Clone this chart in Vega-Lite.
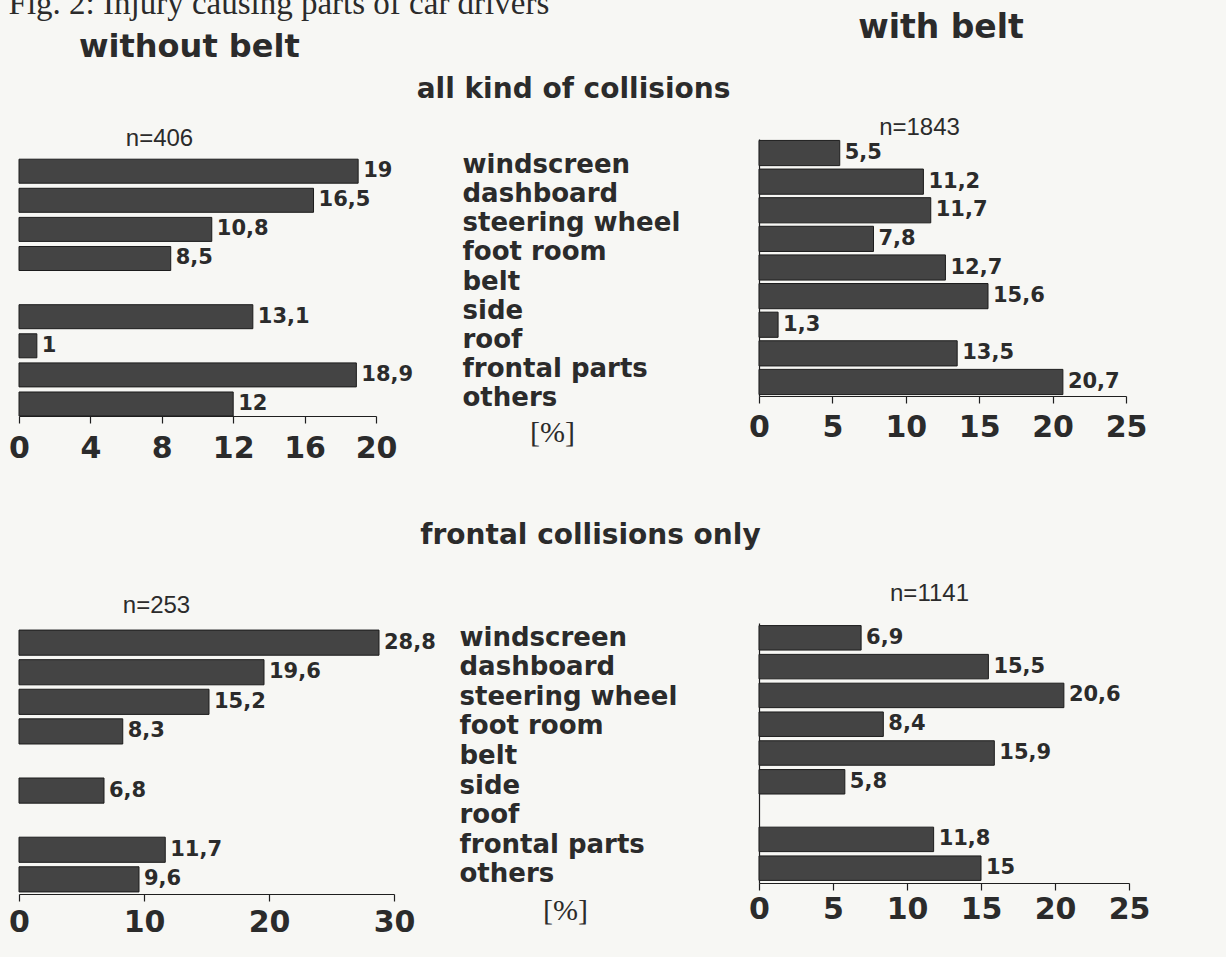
{
  "$schema": "https://vega.github.io/schema/vega-lite/v6.json",
  "background": "#f7f7f4",
  "padding": {"left": 8, "top": -12, "right": 76, "bottom": 22},
  "config": {
    "locale": {"number": {"decimal": ",", "thousands": ".", "grouping": [3], "currency": ["", " €"]}},
    "view": {"stroke": null},
    "font": "DejaVu Sans",
    "axis": {"grid": false, "domainColor": "#1f1f1f", "tickColor": "#1f1f1f", "labelColor": "#2b2b2b", "titleColor": "#2b2b2b", "labelFont": "DejaVu Sans", "labelFontWeight": "bold", "labelFlush": false, "labelOverlap": false, "labelBound": false},
    "title": {"color": "#2b2b2b", "font": "DejaVu Sans", "fontWeight": "bold"}
  },
  "title": {"text": "Fig. 2: Injury causing parts of car drivers", "anchor": "start", "font": "Liberation Serif", "fontSize": 33, "fontWeight": "normal", "offset": -9},
  "datasets": {
    "tl": [
      {"part": "windscreen", "pct": 19},
      {"part": "dashboard", "pct": 16.5},
      {"part": "steering wheel", "pct": 10.8},
      {"part": "foot room", "pct": 8.5},
      {"part": "side", "pct": 13.1},
      {"part": "roof", "pct": 1},
      {"part": "frontal parts", "pct": 18.9},
      {"part": "others", "pct": 12}
    ],
    "tr": [
      {"part": "windscreen", "pct": 5.5},
      {"part": "dashboard", "pct": 11.2},
      {"part": "steering wheel", "pct": 11.7},
      {"part": "foot room", "pct": 7.8},
      {"part": "belt", "pct": 12.7},
      {"part": "side", "pct": 15.6},
      {"part": "roof", "pct": 1.3},
      {"part": "frontal parts", "pct": 13.5},
      {"part": "others", "pct": 20.7}
    ],
    "bl": [
      {"part": "windscreen", "pct": 28.8},
      {"part": "dashboard", "pct": 19.6},
      {"part": "steering wheel", "pct": 15.2},
      {"part": "foot room", "pct": 8.3},
      {"part": "side", "pct": 6.8},
      {"part": "frontal parts", "pct": 11.7},
      {"part": "others", "pct": 9.6}
    ],
    "br": [
      {"part": "windscreen", "pct": 6.9},
      {"part": "dashboard", "pct": 15.5},
      {"part": "steering wheel", "pct": 20.6},
      {"part": "foot room", "pct": 8.4},
      {"part": "belt", "pct": 15.9},
      {"part": "side", "pct": 5.8},
      {"part": "frontal parts", "pct": 11.8},
      {"part": "others", "pct": 15}
    ]
  },
  "bounds": "flush",
  "spacing": 740,
  "hconcat": [
    {
      "title": {"text": "without belt", "anchor": "start", "frame": "group", "dx": 60, "fontSize": 32, "offset": 12},
      "bounds": "flush",
      "spacing": 212,
      "vconcat": [
        {
          "width": 357,
          "height": 277,
          "title": {"text": "all kind of collisions", "anchor": "middle", "frame": "group", "dx": 376, "fontSize": 28, "offset": 22},
          "data": {"name": "tl"},
          "encoding": {
            "y": {"field": "part", "type": "nominal", "sort": null,
              "scale": {"domain": ["windscreen", "dashboard", "steering wheel", "foot room", "belt", "side", "roof", "frontal parts", "others"], "paddingInner": 0.175, "paddingOuter": 0.347, "align": 1},
              "axis": {"orient": "right", "title": null, "domain": false, "ticks": false, "labelPadding": 86, "labelAlign": "left", "labelFontSize": 26, "labelLimit": 400, "labelOffset": -6}}
          },
          "layer": [
            {
              "mark": {"type": "bar", "fill": "#444444", "stroke": "#1c1c1c", "strokeWidth": 1},
              "encoding": {
                "x": {"field": "pct", "type": "quantitative", "scale": {"domain": [0, 20], "nice": false},
                  "axis": {"orient": "bottom", "values": [0, 4, 8, 12, 16, 20], "labelFontSize": 30, "tickSize": 7, "labelPadding": 10, "domainWidth": 1.2, "tickWidth": 1.2,
                    "title": "[%]", "titleFont": "Liberation Serif", "titleFontSize": 30, "titleFontWeight": "normal", "titleX": 533, "titleY": 16, "titleBaseline": "middle"}}
              }
            },
            {
              "mark": {"type": "text", "align": "left", "baseline": "middle", "dx": 5, "font": "DejaVu Sans", "fontWeight": "bold", "fontSize": 21, "color": "#2b2b2b"},
              "encoding": {
                "x": {"field": "pct", "type": "quantitative", "scale": {"domain": [0, 20], "nice": false},
                  "axis": {"orient": "top", "labels": false, "ticks": false, "domain": false, "title": "n=406", "titleFont": "Liberation Sans", "titleFontWeight": "normal", "titleFontSize": 24, "titleX": 140, "titleY": 6, "titleBaseline": "alphabetic"}},
                "text": {"field": "pct", "type": "quantitative", "format": "~g"}
              }
            }
          ]
        },
        {
          "width": 375,
          "height": 266,
          "title": {"text": "frontal collisions only", "anchor": "middle", "frame": "group", "dx": 384, "fontSize": 28, "offset": 43},
          "data": {"name": "bl"},
          "encoding": {
            "y": {"field": "part", "type": "nominal", "sort": null,
              "scale": {"domain": ["windscreen", "dashboard", "steering wheel", "foot room", "belt", "side", "roof", "frontal parts", "others"], "paddingInner": 0.15, "paddingOuter": 0.07},
              "axis": {"orient": "right", "title": null, "domain": false, "ticks": false, "labelPadding": 65, "labelAlign": "left", "labelFontSize": 26, "labelLimit": 400, "labelOffset": -5}}
          },
          "layer": [
            {
              "mark": {"type": "bar", "fill": "#444444", "stroke": "#1c1c1c", "strokeWidth": 1},
              "encoding": {
                "x": {"field": "pct", "type": "quantitative", "scale": {"domain": [0, 30], "nice": false},
                  "axis": {"orient": "bottom", "values": [0, 10, 20, 30], "labelFontSize": 30, "tickSize": 7, "labelPadding": 6, "domainWidth": 1.2, "tickWidth": 1.2,
                    "title": "[%]", "titleFont": "Liberation Serif", "titleFontSize": 30, "titleFontWeight": "normal", "titleX": 546, "titleY": 16, "titleBaseline": "middle"}}
              }
            },
            {
              "mark": {"type": "text", "align": "left", "baseline": "middle", "dx": 5, "font": "DejaVu Sans", "fontWeight": "bold", "fontSize": 21, "color": "#2b2b2b"},
              "encoding": {
                "x": {"field": "pct", "type": "quantitative", "scale": {"domain": [0, 30], "nice": false},
                  "axis": {"orient": "top", "labels": false, "ticks": false, "domain": false, "title": "n=253", "titleFont": "Liberation Sans", "titleFontWeight": "normal", "titleFontSize": 24, "titleX": 137, "titleY": -16, "titleBaseline": "alphabetic"}},
                "text": {"field": "pct", "type": "quantitative", "format": "~g"}
              }
            }
          ]
        }
      ]
    },
    {
      "title": {"text": "with belt", "anchor": "middle", "frame": "group", "dx": 182, "fontSize": 33, "offset": 70},
      "bounds": "flush",
      "spacing": 227,
      "vconcat": [
        {
          "width": 367,
          "height": 257,
          "data": {"name": "tr"},
          "encoding": {
            "y": {"field": "part", "type": "nominal", "sort": null,
              "scale": {"domain": ["windscreen", "dashboard", "steering wheel", "foot room", "belt", "side", "roof", "frontal parts", "others"], "paddingInner": 0.12, "paddingOuter": 0.05},
              "axis": {"orient": "left", "title": null, "labels": false, "ticks": false, "domain": true, "domainWidth": 1.2}}
          },
          "layer": [
            {
              "mark": {"type": "bar", "fill": "#444444", "stroke": "#1c1c1c", "strokeWidth": 1},
              "encoding": {
                "x": {"field": "pct", "type": "quantitative", "scale": {"domain": [0, 25], "nice": false},
                  "axis": {"orient": "bottom", "values": [0, 5, 10, 15, 20, 25], "labelFontSize": 30, "tickSize": 7, "labelPadding": 9, "domainWidth": 1.2, "tickWidth": 1.2, "title": null}}
              }
            },
            {
              "mark": {"type": "text", "align": "left", "baseline": "middle", "dx": 5, "font": "DejaVu Sans", "fontWeight": "bold", "fontSize": 21, "color": "#2b2b2b"},
              "encoding": {
                "x": {"field": "pct", "type": "quantitative", "scale": {"domain": [0, 25], "nice": false},
                  "axis": {"orient": "top", "labels": false, "ticks": false, "domain": false, "title": "n=1843", "titleFont": "Liberation Sans", "titleFontWeight": "normal", "titleFontSize": 24, "titleX": 160, "titleY": -5, "titleBaseline": "alphabetic"}},
                "text": {"field": "pct", "type": "quantitative", "format": "~g"}
              }
            }
          ]
        },
        {
          "width": 370,
          "height": 260,
          "data": {"name": "br"},
          "encoding": {
            "y": {"field": "part", "type": "nominal", "sort": null,
              "scale": {"domain": ["windscreen", "dashboard", "steering wheel", "foot room", "belt", "side", "roof", "frontal parts", "others"], "paddingInner": 0.15, "paddingOuter": 0.09},
              "axis": {"orient": "left", "title": null, "labels": false, "ticks": false, "domain": true, "domainWidth": 1.2}}
          },
          "layer": [
            {
              "mark": {"type": "bar", "fill": "#444444", "stroke": "#1c1c1c", "strokeWidth": 1},
              "encoding": {
                "x": {"field": "pct", "type": "quantitative", "scale": {"domain": [0, 25], "nice": false},
                  "axis": {"orient": "bottom", "values": [0, 5, 10, 15, 20, 25], "labelFontSize": 30, "tickSize": 7, "labelPadding": 4, "domainWidth": 1.2, "tickWidth": 1.2, "title": null}}
              }
            },
            {
              "mark": {"type": "text", "align": "left", "baseline": "middle", "dx": 5, "font": "DejaVu Sans", "fontWeight": "bold", "fontSize": 21, "color": "#2b2b2b"},
              "encoding": {
                "x": {"field": "pct", "type": "quantitative", "scale": {"domain": [0, 25], "nice": false},
                  "axis": {"orient": "top", "labels": false, "ticks": false, "domain": false, "title": "n=1141", "titleFont": "Liberation Sans", "titleFontWeight": "normal", "titleFontSize": 24, "titleX": 170, "titleY": -23, "titleBaseline": "alphabetic"}},
                "text": {"field": "pct", "type": "quantitative", "format": "~g"}
              }
            }
          ]
        }
      ]
    }
  ]
}
